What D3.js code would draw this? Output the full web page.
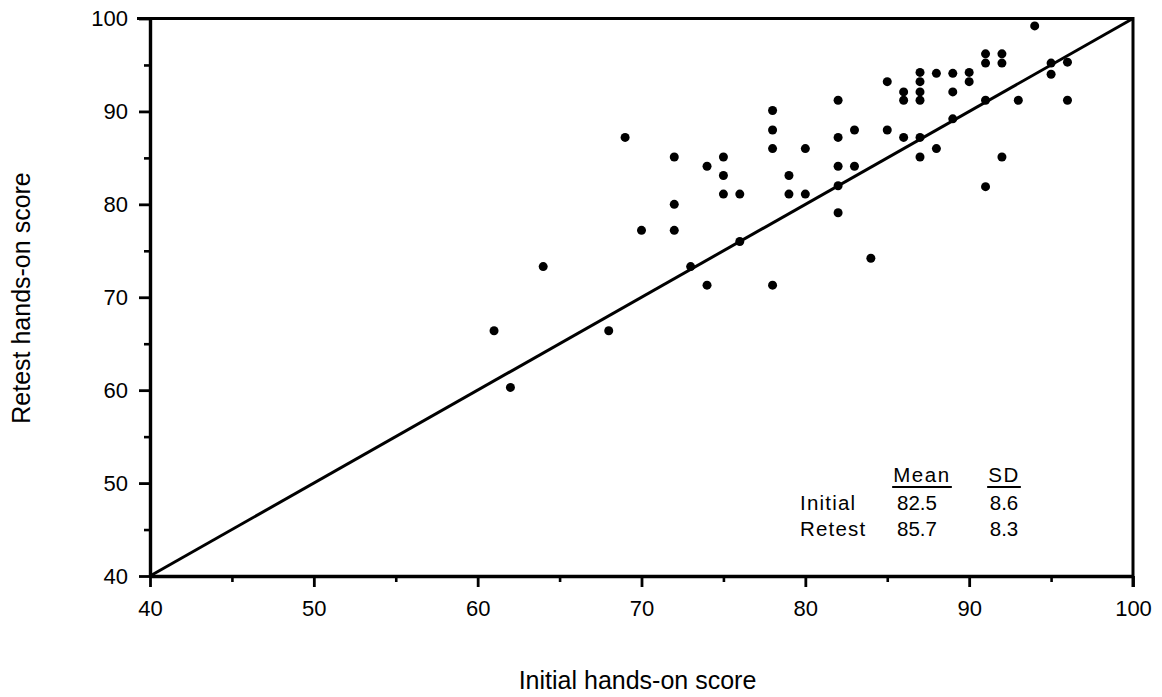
<!DOCTYPE html>
<html>
<head>
<meta charset="utf-8">
<script src="https://cdn.jsdelivr.net/npm/d3@7"></script>
<style>
  html, body { margin: 0; padding: 0; background: #fff; }
  svg { display: block; }
  text { font-family: "Liberation Sans", Arial, Helvetica, sans-serif; fill: #000; }
</style>
</head>
<body>
<svg id="chart" width="1162" height="697"></svg>
<script>
// Initial vs. retest hands-on scores, one dot per person
const initialScores = [61, 62, 64, 68, 69, 70, 72, 72, 72, 73, 74, 74, 75, 75, 75, 76, 76,
  78, 78, 78, 78, 79, 79, 80, 80, 82, 82, 82, 82, 82, 83, 83, 84, 85, 85, 86, 86, 86,
  87, 87, 87, 87, 87, 87, 88, 88, 89, 89, 89, 90, 90, 91, 91, 91, 91, 92, 92, 92, 93,
  94, 95, 95, 96, 96];
const retestScores = [66.4, 60.3, 73.3, 66.4, 87.2, 77.2, 85.1, 80.0, 77.2, 73.3, 84.1, 71.3,
  85.1, 83.1, 81.1, 81.1, 76.0, 90.1, 88.0, 86.0, 71.3, 83.1, 81.1, 86.0, 81.1, 91.2, 87.2,
  84.1, 82.0, 79.1, 88.0, 84.1, 74.2, 93.2, 88.0, 92.1, 91.2, 87.2, 94.2, 93.2, 92.1, 91.2,
  87.2, 85.1, 94.1, 86.0, 94.1, 92.1, 89.2, 94.2, 93.2, 96.2, 95.2, 91.2, 81.9, 96.2, 95.2,
  85.1, 91.2, 99.2, 95.2, 94.0, 95.3, 91.2];

// Line of equality (retest = initial)
const identityLine = [40, 100];

// Axis ticks
const majorTicks = [40, 50, 60, 70, 80, 90, 100];
const minorTicks = [45, 55, 65, 75, 85, 95];

// Summary table
const statHeaders = ["Mean", "SD"];
const statRows = ["Initial", "Retest"];
const statMeans = ["82.5", "85.7"];
const statSDs = ["8.6", "8.3"];

const svg = d3.select("#chart");
const plotLeft = 150, plotRight = 1133, plotTop = 18.5, plotBottom = 576;

const x = d3.scaleLinear().domain([40, 100]).range([plotLeft, plotRight]);
const y = d3.scaleLinear().domain([40, 100]).range([plotBottom, plotTop]);

// Frame: top and right edges
svg.append("path")
  .attr("d", `M${plotLeft - 13},${plotTop}H${plotRight}V${plotBottom + 11}`)
  .attr("fill", "none").attr("stroke", "#000").attr("stroke-width", 3);

function styleAxis(g, width) {
  g.select(".domain").attr("stroke-width", width);
  g.selectAll(".tick line").attr("stroke-width", 2.8);
  g.selectAll("text").style("font-size", "22px")
    .style("font-family", "'Liberation Sans', Arial, Helvetica, sans-serif");
}

// Bottom axis: major ticks with labels, minor ticks shorter
const xMajor = svg.append("g").attr("transform", `translate(0,${plotBottom})`)
  .call(d3.axisBottom(x).tickValues(majorTicks).tickSize(11).tickPadding(13)
    .tickFormat(d3.format("d")).tickSizeOuter(0));
styleAxis(xMajor, 3.4);
svg.append("g").attr("transform", `translate(0,${plotBottom})`)
  .call(d3.axisBottom(x).tickValues(minorTicks).tickSize(6).tickFormat(""))
  .call(g => g.select(".domain").remove())
  .call(g => g.selectAll(".tick line").attr("stroke-width", 2.6));

// Left axis
const yMajor = svg.append("g").attr("transform", `translate(${plotLeft},0)`)
  .call(d3.axisLeft(y).tickValues(majorTicks).tickSize(11).tickPadding(11)
    .tickFormat(d3.format("d")).tickSizeOuter(0));
styleAxis(yMajor, 3.4);
svg.append("g").attr("transform", `translate(${plotLeft},0)`)
  .call(d3.axisLeft(y).tickValues(minorTicks).tickSize(6).tickFormat(""))
  .call(g => g.select(".domain").remove())
  .call(g => g.selectAll(".tick line").attr("stroke-width", 2.6));

// Identity line
svg.append("path")
  .datum(identityLine)
  .attr("d", d3.line().x(d => x(d)).y(d => y(d)))
  .attr("fill", "none").attr("stroke", "#000").attr("stroke-width", 3);

// Points
svg.append("g").selectAll("circle")
  .data(initialScores.map((v, i) => [v, retestScores[i]]))
  .join("circle")
  .attr("cx", d => x(d[0]))
  .attr("cy", d => y(d[1]))
  .attr("r", 4.5)
  .attr("fill", "#000");

// Axis titles
svg.append("text")
  .attr("x", (plotLeft + plotRight) / 2 - 4).attr("y", 689)
  .attr("text-anchor", "middle")
  .style("font-size", "25px")
  .text("Initial hands-on score");

svg.append("text")
  .attr("transform", "translate(30,298) rotate(-90)")
  .attr("text-anchor", "middle")
  .style("font-size", "25px")
  .text("Retest hands-on score");

// Summary table
const table = svg.append("g").style("font-size", "20.5px");
const headerX = [922, 1004], valueX = [917, 1004];
const headerY = 481.5, rowY = [509.5, 536];

statHeaders.forEach((h, i) => {
  const t = table.append("text")
    .attr("x", headerX[i]).attr("y", headerY)
    .attr("text-anchor", "middle")
    .style("letter-spacing", "1.6px")
    .text(h);
  const w = t.node().getComputedTextLength();
  table.append("line")
    .attr("x1", headerX[i] - w / 2 - 1).attr("x2", headerX[i] + w / 2 + 1)
    .attr("y1", headerY + 5.5).attr("y2", headerY + 5.5)
    .attr("stroke", "#000").attr("stroke-width", 1.8);
});

statRows.forEach((r, i) => {
  table.append("text").attr("x", 800).attr("y", rowY[i])
    .style("letter-spacing", "1.2px").text(r);
  table.append("text").attr("x", valueX[0]).attr("y", rowY[i])
    .attr("text-anchor", "middle").text(statMeans[i]);
  table.append("text").attr("x", valueX[1]).attr("y", rowY[i])
    .attr("text-anchor", "middle").text(statSDs[i]);
});
</script>
</body>
</html>
